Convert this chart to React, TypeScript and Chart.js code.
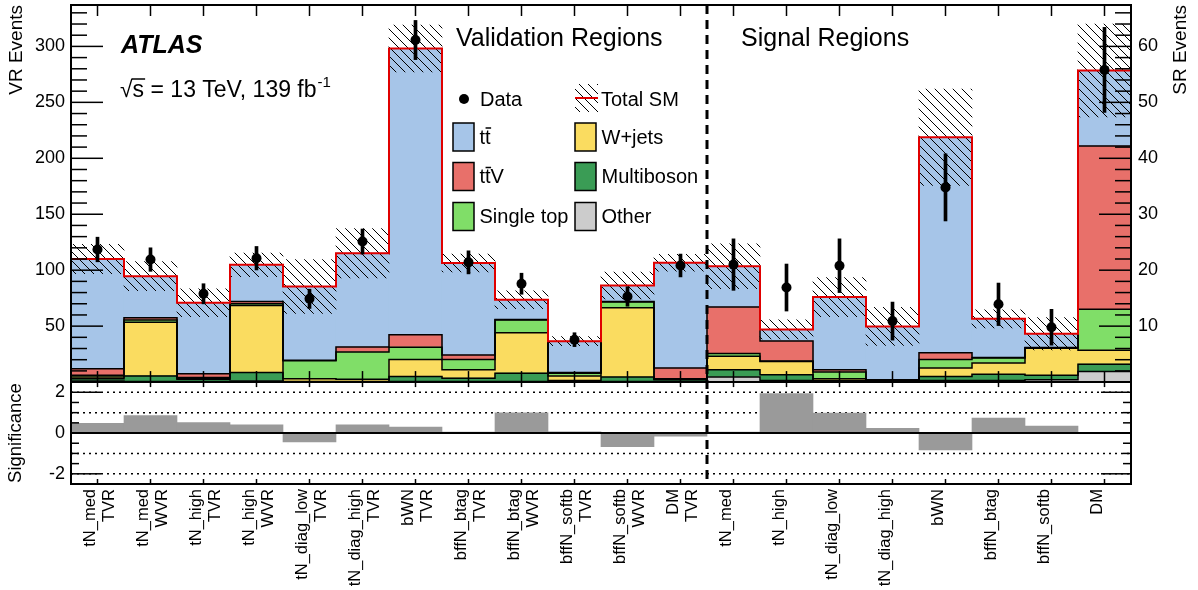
import React, { useEffect, useRef } from 'react';
import { Chart, registerables } from 'chart.js';

Chart.register(...registerables);

const FONT = "'Liberation Sans', Arial, Helvetica, sans-serif";

// ---------------- categories ----------------
const VR_LABELS: string[][] = [
  ['tN_med', 'TVR'], ['tN_med', 'WVR'], ['tN_high', 'TVR'], ['tN_high', 'WVR'],
  ['tN_diag_low', 'TVR'], ['tN_diag_high', 'TVR'], ['bWN', 'TVR'], ['bffN_btag', 'TVR'],
  ['bffN_btag', 'WVR'], ['bffN_softb', 'TVR'], ['bffN_softb', 'WVR'], ['DM', 'TVR'],
];
const SR_LABELS: string[] = ['tN_med', 'tN_high', 'tN_diag_low', 'tN_diag_high', 'bWN', 'bffN_btag', 'bffN_softb', 'DM'];

// ---------------- validation regions (VR events) ----------------
const VR_OTHER = [1, 0.5, 0.5, 1, 0, 0, 0.5, 0.5, 0.5, 0, 0.5, 0.5];
const VR_MULTIBOSON = [2, 5, 2, 7.5, 0.5, 0.5, 4.5, 3, 7.5, 1.5, 4, 1.5];
const VR_WJETS = [1.5, 48, 0.5, 60, 2.5, 2, 15.2, 7.5, 36, 4, 62, 0.5];
const VR_SINGLETOP = [1.5, 2, 1, 1.5, 16, 24.3, 11, 9.2, 11.5, 2.5, 5, 0.5];
const VR_TTV = [6, 2, 3.5, 2, 0.5, 4.5, 11, 4, 0.5, 0.5, 0.5, 9.5];
const VR_TTBAR = [98, 37.1, 63.4, 32.8, 65.9, 83.9, 255.9, 82.2, 17.6, 28.1, 14.3, 94.1];
const VR_UNC = [13, 13, 12.5, 10.5, 24, 22, 21, 8, 8, 4, 12, 7.5];
const VR_DATA = [118.5, 109.5, 78.9, 110.7, 74.4, 125.6, 305.7, 107, 87.9, 37.9, 76.5, 104.2];
const VR_DATA_ERR = [11, 10.5, 9, 10.5, 8.6, 11.2, 17.5, 10.3, 9.4, 6.2, 8.7, 10.2];

// ---------------- signal regions (SR events) ----------------
const SR_OTHER = [0.9, 0.3, 0, 0, 0.3, 0.3, 0.4, 1.9];
const SR_MULTIBOSON = [1.3, 1.0, 0.3, 0.1, 0.7, 1.1, 0.8, 1.3];
const SR_WJETS = [2.4, 2.4, 0.3, 0.1, 1.5, 2.0, 4.85, 2.5];
const SR_SINGLETOP = [0.5, 0.05, 1.2, 0.1, 1.55, 0.9, 0.1, 7.3];
const SR_TTV = [8.3, 3.6, 0.4, 0.1, 1.2, 0.1, 0.05, 29.2];
const SR_TTBAR = [7.3, 2.06, 13.0, 9.55, 38.5, 6.9, 2.45, 13.5];
const SR_UNC = [4, 1.7, 3.5, 3.4, 8.6, 1.6, 2.9, 8.3];
const SR_DATA = [21, 16.9, 20.8, 10.9, 34.8, 13.9, 9.8, 55.8];
const SR_DATA_ERR = [4.6, 4.2, 4.8, 3.4, 6, 3.8, 3.2, 7.6];

// ---------------- significance ----------------
const SIGNIFICANCE = [0.48, 0.86, 0.51, 0.4, -0.43, 0.4, 0.29, 0.05, 0.99, 0.06, -0.67, -0.15,
  0.05, 1.94, 0.98, 0.23, -0.83, 0.74, 0.34, 0];

// ---------------- axes ----------------
const VR_TICKS = [50, 100, 150, 200, 250, 300];
const SR_TICKS = [10, 20, 30, 40, 50, 60];
const SIG_TICKS = [-2, 0, 2];
const SIG_GUIDES = [-2, -1, 1, 2];
const VR_MAX = 337;
const SR_PER_VR = 5; // SR axis = VR axis / 5
const SIG_MAX = 2.5;
const UPPER_WEIGHT = 3.7;
const LOWER_WEIGHT = 1;

const C_TTBAR = '#a6c5e8';
const C_TTV = '#e8706a';
const C_SINGLETOP = '#80de68';
const C_WJETS = '#fadc60';
const C_MULTIBOSON = '#3a9c55';
const C_OTHER = '#cccccc';
const C_SIG = '#9a9a9a';
const C_TOTAL = '#e00000';

function makeHatch(ctx: CanvasRenderingContext2D): CanvasPattern {
  const s = 9;
  const c = document.createElement('canvas');
  c.width = s;
  c.height = s;
  const g = c.getContext('2d')!;
  g.strokeStyle = '#000';
  g.lineWidth = 1;
  g.beginPath();
  for (const k of [-1, 0, 1]) {
    g.moveTo(k * s, 0);
    g.lineTo(k * s + s, s);
  }
  g.stroke();
  return ctx.createPattern(c, 'repeat')!;
}

export default function App() {
  const ref = useRef<HTMLCanvasElement>(null);

  useEffect(() => {
    const canvas = ref.current!;
    const ctx0 = canvas.getContext('2d')!;
    const hatch = makeHatch(ctx0);

    const labels: (string | string[])[] = [...VR_LABELS, ...SR_LABELS];
    const n = labels.length;
    const combine = (vr: number[], sr: number[]) => [...vr, ...sr.map((v) => v * SR_PER_VR)];

    const comps = [
      { label: 'Other', data: combine(VR_OTHER, SR_OTHER), color: C_OTHER },
      { label: 'Multiboson', data: combine(VR_MULTIBOSON, SR_MULTIBOSON), color: C_MULTIBOSON },
      { label: 'W+jets', data: combine(VR_WJETS, SR_WJETS), color: C_WJETS },
      { label: 'Single top', data: combine(VR_SINGLETOP, SR_SINGLETOP), color: C_SINGLETOP },
      { label: 'ttV', data: combine(VR_TTV, SR_TTV), color: C_TTV },
      { label: 'tt', data: combine(VR_TTBAR, SR_TTBAR), color: C_TTBAR },
    ];
    const cumul: number[][] = [];
    let run = new Array(n).fill(0);
    comps.forEach((c) => {
      run = run.map((r: number, i: number) => r + c.data[i]);
      cumul.push(run.slice());
    });
    const total = cumul[cumul.length - 1];
    const unc = combine(VR_UNC, SR_UNC);
    const dat = combine(VR_DATA, SR_DATA);
    const datErr = combine(VR_DATA_ERR, SR_DATA_ERR);

    const steps = (vals: number[]) => [...vals.map((v, i) => ({ x: i, y: v })), { x: n, y: vals[n - 1] }];

    const barCommon = {
      type: 'bar',
      grouped: false,
      barPercentage: 1,
      categoryPercentage: 1,
      borderWidth: 0,
      xAxisID: 'x',
    };

    const datasets: any[] = [];
    comps.forEach((c) => {
      datasets.push({ ...barCommon, label: c.label, data: c.data, backgroundColor: c.color, yAxisID: 'y', order: 10 });
    });
    // black step contours of the cumulative stack
    cumul.slice(0, cumul.length - 1).forEach((cv, k) => {
      datasets.push({
        type: 'line', label: 'contour' + k, data: steps(cv), xAxisID: 'xE', yAxisID: 'y', stack: 'c' + k,
        stepped: 'before', borderColor: '#000', borderWidth: 1.5, pointRadius: 0, fill: false, order: 8,
      });
    });
    datasets.push({
      ...barCommon, label: 'Uncertainty', data: total.map((t, i) => [t - unc[i], t + unc[i]]),
      backgroundColor: hatch, yAxisID: 'y', stack: 'unc', order: 5,
    });
    datasets.push({
      type: 'line', label: 'Total SM', data: steps(total), xAxisID: 'xE', yAxisID: 'y', stack: 'tot',
      stepped: 'before', borderColor: C_TOTAL, borderWidth: 2, pointRadius: 0, fill: false, order: 4,
    });
    datasets.push({
      ...barCommon, label: 'Data error', data: dat.map((d, i) => [d - datErr[i], d + datErr[i]]),
      backgroundColor: '#000', maxBarThickness: 3, yAxisID: 'y', stack: 'err', order: 3,
    });
    datasets.push({
      type: 'line', label: 'Data', data: dat, xAxisID: 'x', yAxisID: 'y', stack: 'pts', showLine: false,
      pointRadius: 5, pointBackgroundColor: '#000', pointBorderWidth: 0, order: 2,
    });
    datasets.push({
      ...barCommon, label: 'Significance', data: SIGNIFICANCE, backgroundColor: C_SIG, yAxisID: 'ySig', order: 1,
    });

    const decor = {
      id: 'decor',
      beforeDatasetsDraw(chart: any) {
        const ctx = chart.ctx;
        const { left, right } = chart.chartArea;
        const ys = chart.scales.ySig;
        ctx.save();
        ctx.strokeStyle = '#000';
        ctx.lineWidth = 1.5;
        ctx.setLineDash([2, 4]);
        for (const v of SIG_GUIDES) {
          const py = ys.getPixelForValue(v);
          ctx.beginPath();
          ctx.moveTo(left, py);
          ctx.lineTo(right, py);
          ctx.stroke();
        }
        ctx.restore();
      },
      afterDatasetsDraw(chart: any) {
        const ctx = chart.ctx;
        const { left, right, top, bottom } = chart.chartArea;
        const sx = chart.scales.x;
        const sxe = chart.scales.xE;
        const sy = chart.scales.y;
        const ys = chart.scales.ySig;
        const ysr = chart.scales.ySR;
        const mid = sy.bottom;
        const seg = (x1: number, y1: number, x2: number, y2: number) => {
          ctx.beginPath();
          ctx.moveTo(x1, y1);
          ctx.lineTo(x2, y2);
          ctx.stroke();
        };
        ctx.save();
        ctx.strokeStyle = '#000';
        ctx.fillStyle = '#000';

        // zero line of significance panel
        ctx.lineWidth = 2;
        const y0 = ys.getPixelForValue(0);
        seg(left, y0, right, y0);

        // inner tick marks
        ctx.lineWidth = 1.5;
        for (let k = 1; k * 10 < VR_MAX; k++) {
          const v = k * 10;
          const py = sy.getPixelForValue(v);
          seg(left, py, left + (v % 50 === 0 ? 32 : 16), py);
        }
        for (let k = 1; k * 2 < VR_MAX / SR_PER_VR; k++) {
          const v = k * 2;
          const py = ysr.getPixelForValue(v);
          seg(right, py, right - (v % 10 === 0 ? 32 : 16), py);
        }
        for (let k = -4; k <= 4; k++) {
          if (k === 0) continue;
          const v = k * 0.5;
          const py = ys.getPixelForValue(v);
          const len = Math.abs(v) === 2 ? 30 : 8;
          seg(left, py, left + len, py);
          seg(right, py, right - len, py);
        }
        for (let i = 0; i < n; i++) {
          const px = sx.getPixelForValue(i);
          seg(px, top, px, top + 11);
          seg(px, mid, px, mid - 11);
          seg(px, bottom, px, bottom - 5);
          seg(px, mid, px, mid + 5);
        }

        // frame
        ctx.lineWidth = 2;
        ctx.strokeRect(left, top, right - left, bottom - top);
        seg(left, mid, right, mid);

        // VR / SR divider
        ctx.lineWidth = 3;
        ctx.setLineDash([9, 6]);
        const xd = sxe.getPixelForValue(VR_LABELS.length);
        seg(xd, top, xd, bottom);
        ctx.setLineDash([]);

        // texts
        ctx.textBaseline = 'alphabetic';
        ctx.textAlign = 'left';
        ctx.font = `italic bold 25px ${FONT}`;
        ctx.fillText('ATLAS', 121, 53);

        ctx.font = `23px ${FONT}`;
        const rx = 120;
        const by = 97;
        ctx.fillText('\u221A', rx, by);
        const wr = ctx.measureText('\u221A').width;
        const ws = ctx.measureText('s').width;
        ctx.fillText('s = 13 TeV, 139 fb', rx + wr, by);
        ctx.lineWidth = 1.5;
        seg(rx + wr - 1, by - 18, rx + wr + ws + 1, by - 18);
        const wmain = ctx.measureText('s = 13 TeV, 139 fb').width;
        ctx.font = `15px ${FONT}`;
        ctx.fillText('-1', rx + wr + wmain + 1, by - 10);

        ctx.font = `25px ${FONT}`;
        ctx.fillText('Validation Regions', 456, 46);
        ctx.fillText('Signal Regions', 741, 46);

        // legend
        const LF = 20;
        ctx.font = `${LF}px ${FONT}`;
        ctx.textBaseline = 'middle';
        ctx.beginPath();
        ctx.arc(464, 99, 5, 0, Math.PI * 2);
        ctx.fill();
        ctx.fillText('Data', 480, 100);
        ctx.fillStyle = hatch;
        ctx.fillRect(575, 84, 23, 28);
        ctx.strokeStyle = C_TOTAL;
        ctx.lineWidth = 2;
        seg(575, 98, 598, 98);
        ctx.strokeStyle = '#000';
        ctx.fillStyle = '#000';
        ctx.fillText('Total SM', 601, 100);

        const drawBar = (tx: number, ty: number) => {
          const wt = ctx.measureText('t').width;
          ctx.lineWidth = 1.5;
          seg(tx + wt + 0.5, ty - LF * 0.5, tx + 2 * wt + 0.5, ty - LF * 0.5);
        };
        const items = [
          { x: 453, y: 137, color: C_TTBAR, text: 'tt', bar: true },
          { x: 453, y: 176.5, color: C_TTV, text: 'ttV', bar: true },
          { x: 453, y: 216.5, color: C_SINGLETOP, text: 'Single top', bar: false },
          { x: 575, y: 137, color: C_WJETS, text: 'W+jets', bar: false },
          { x: 575, y: 176.5, color: C_MULTIBOSON, text: 'Multiboson', bar: false },
          { x: 575, y: 216.5, color: C_OTHER, text: 'Other', bar: false },
        ];
        for (const it of items) {
          ctx.fillStyle = it.color;
          ctx.fillRect(it.x, it.y - 14, 21, 28);
          ctx.lineWidth = 1.5;
          ctx.strokeStyle = '#000';
          ctx.strokeRect(it.x, it.y - 14, 21, 28);
          ctx.fillStyle = '#000';
          const tx = it.x + 26.5;
          ctx.fillText(it.text, tx, it.y + 1);
          if (it.bar) drawBar(tx, it.y + 1);
        }

        // right axis title
        ctx.save();
        ctx.font = `19px ${FONT}`;
        ctx.translate(1181, 5);
        ctx.rotate(-Math.PI / 2);
        ctx.textAlign = 'right';
        ctx.textBaseline = 'middle';
        ctx.fillText('SR Events', 0, 0);
        ctx.restore();

        ctx.restore();
      },
    };

    const noGrid = { display: false, drawTicks: false };
    const noBorder = { display: false };
    const tickFont = { family: FONT, size: 18 };
    const fixWidth = (w: number) => (s: any) => {
      s.width = w;
      s.paddingTop = 0;
      s.paddingBottom = 0;
    };

    const chart = new Chart(canvas, {
      type: 'bar',
      data: { labels, datasets },
      options: {
        responsive: true,
        maintainAspectRatio: false,
        animation: false,
        events: [],
        layout: { padding: { top: 5, left: 0, right: 0, bottom: 0 } },
        plugins: { legend: { display: false }, tooltip: { enabled: false } },
        scales: {
          x: {
            type: 'category',
            grid: noGrid,
            border: noBorder,
            ticks: {
              autoSkip: false, minRotation: 90, maxRotation: 90, padding: 5, color: '#000', labelOffset: -7,
              font: { family: FONT, size: 16.5, lineHeight: 1.15 },
            },
            afterFit: (s: any) => {
              s.height = 106;
              s.paddingLeft = 0;
              s.paddingRight = 0;
            },
          },
          xE: { type: 'linear', display: false, min: 0, max: n, offset: false, grid: { offset: false } },
          y: {
            type: 'linear', position: 'left', stack: 'left', stackWeight: UPPER_WEIGHT, weight: 2,
            stacked: true, min: 0, max: VR_MAX,
            grid: noGrid, border: noBorder,
            afterBuildTicks: (s: any) => { s.ticks = VR_TICKS.map((v) => ({ value: v })); },
            ticks: { autoSkip: false, padding: 6, color: '#000', font: tickFont },
            title: { display: true, text: 'VR Events', align: 'end', color: '#000', font: { family: FONT, size: 19 }, padding: { top: 5, bottom: 0 } },
            afterFit: fixWidth(71),
          },
          ySig: {
            type: 'linear', position: 'left', stack: 'left', stackWeight: LOWER_WEIGHT, weight: 1,
            min: -SIG_MAX, max: SIG_MAX,
            grid: noGrid, border: noBorder,
            afterBuildTicks: (s: any) => { s.ticks = SIG_TICKS.map((v) => ({ value: v })); },
            ticks: { autoSkip: false, padding: 6, color: '#000', font: tickFont },
            title: { display: true, text: 'Significance', align: 'center', color: '#000', font: { family: FONT, size: 18.5 }, padding: { top: 5, bottom: 0 } },
            afterFit: fixWidth(71),
          },
          ySR: {
            type: 'linear', position: 'right',
            min: -(VR_MAX / SR_PER_VR) * LOWER_WEIGHT / UPPER_WEIGHT, max: VR_MAX / SR_PER_VR,
            grid: noGrid, border: noBorder,
            afterBuildTicks: (s: any) => { s.ticks = SR_TICKS.map((v) => ({ value: v })); },
            ticks: { autoSkip: false, padding: 7, color: '#000', font: tickFont },
            afterFit: fixWidth(67),
          },
        },
      } as any,
      plugins: [decor],
    });

    return () => chart.destroy();
  }, []);

  return (
    <div style={{ position: 'fixed', left: 0, top: 0, width: 1198, height: 590, background: '#fff' }}>
      <canvas ref={ref} />
    </div>
  );
}
